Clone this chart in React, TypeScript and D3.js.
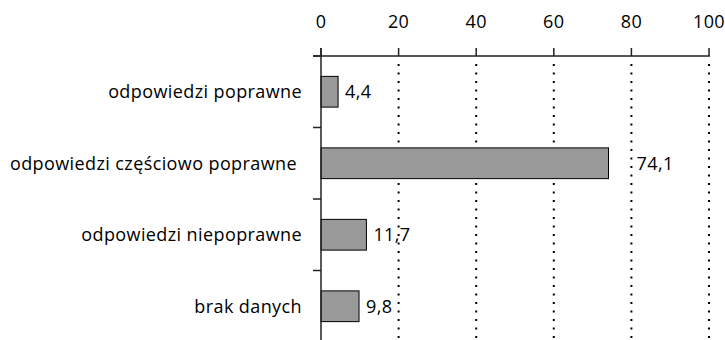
import React from "react";
import * as d3 from "d3";

const categories = [
  "odpowiedzi poprawne",
  "odpowiedzi częściowo poprawne",
  "odpowiedzi niepoprawne",
  "brak danych",
];
const values = [4.4, 74.1, 11.7, 9.8];
const valueLabels = ["4,4", "74,1", "11,7", "9,8"];
const xTicks = [0, 20, 40, 60, 80, 100];

const W = 725;
const H = 340;
const FONT = "'Open Sans', sans-serif";
const FS = 18;
const LS = 0.4;

export default function App() {
  const x = d3.scaleLinear().domain([0, 100]).range([321, 709]);
  const y = d3
    .scaleBand<string>()
    .domain(categories)
    .range([56, 342])
    .paddingInner(0.57)
    .paddingOuter(0.285);
  const step = y.step();
  const axisY = 56;
  const boundaries = categories.map((c) => (y(c) as number) + y.bandwidth() / 2 - step / 2);
  boundaries.push((y(categories[categories.length - 1]) as number) + y.bandwidth() / 2 + step / 2);
  const labelNudge: Record<number, number> = { 1: 21 };

  return (
    <svg
      width={W}
      height={H}
      style={{ position: "absolute", left: 0, top: 0, background: "#fff" }}
      fontFamily={FONT}
      letterSpacing={LS}
    >
      <rect x={0} y={0} width={W} height={H} fill="#fff" />
      {/* gridlines */}
      {xTicks.slice(1).map((t) => (
        <line
          key={"g" + t}
          x1={x(t)}
          x2={x(t)}
          y1={axisY + 8}
          y2={H}
          stroke="#000"
          strokeWidth={2}
          strokeDasharray="2,6.5"
        />
      ))}
      {/* bars */}
      {categories.map((c, i) => (
        <rect
          key={"b" + i}
          x={x(0)}
          y={y(c)}
          width={x(values[i]) - x(0)}
          height={y.bandwidth()}
          fill="#999999"
          stroke="#000"
          strokeWidth={1}
        />
      ))}
      {/* value labels */}
      {categories.map((c, i) => (
        <text
          key={"v" + i}
          x={x(values[i]) + 7 + (labelNudge[i] || 0)}
          y={(y(c) as number) + y.bandwidth() / 2}
          dy="0.35em"
          fontSize={FS}
          fill="#000"
        >
          {valueLabels[i]}
        </text>
      ))}
      {/* x axis (top) */}
      <line x1={313} x2={x(100) + 1} y1={axisY} y2={axisY} stroke="#222" strokeWidth={1.5} />
      {xTicks.map((t) => (
        <g key={"t" + t}>
          <line x1={x(t)} x2={x(t)} y1={axisY - 8} y2={axisY} stroke="#222" strokeWidth={1.5} />
          <text x={x(t)} y={22} dy="0.35em" textAnchor="middle" fontSize={FS} fill="#000">
            {t}
          </text>
        </g>
      ))}
      {/* y axis */}
      <line x1={x(0)} x2={x(0)} y1={axisY - 8} y2={H} stroke="#222" strokeWidth={1.5} />
      {boundaries.map((b, i) => (
        <line key={"yt" + i} x1={313} x2={x(0)} y1={b} y2={b} stroke="#222" strokeWidth={1.5} />
      ))}
      {categories.map((c, i) => (
        <text
          key={"c" + i}
          x={i === 1 ? 297 : 302}
          y={(y(c) as number) + y.bandwidth() / 2}
          dy="0.35em"
          textAnchor="end"
          fontSize={FS}
          fill="#000"
        >
          {c}
        </text>
      ))}
    </svg>
  );
}
